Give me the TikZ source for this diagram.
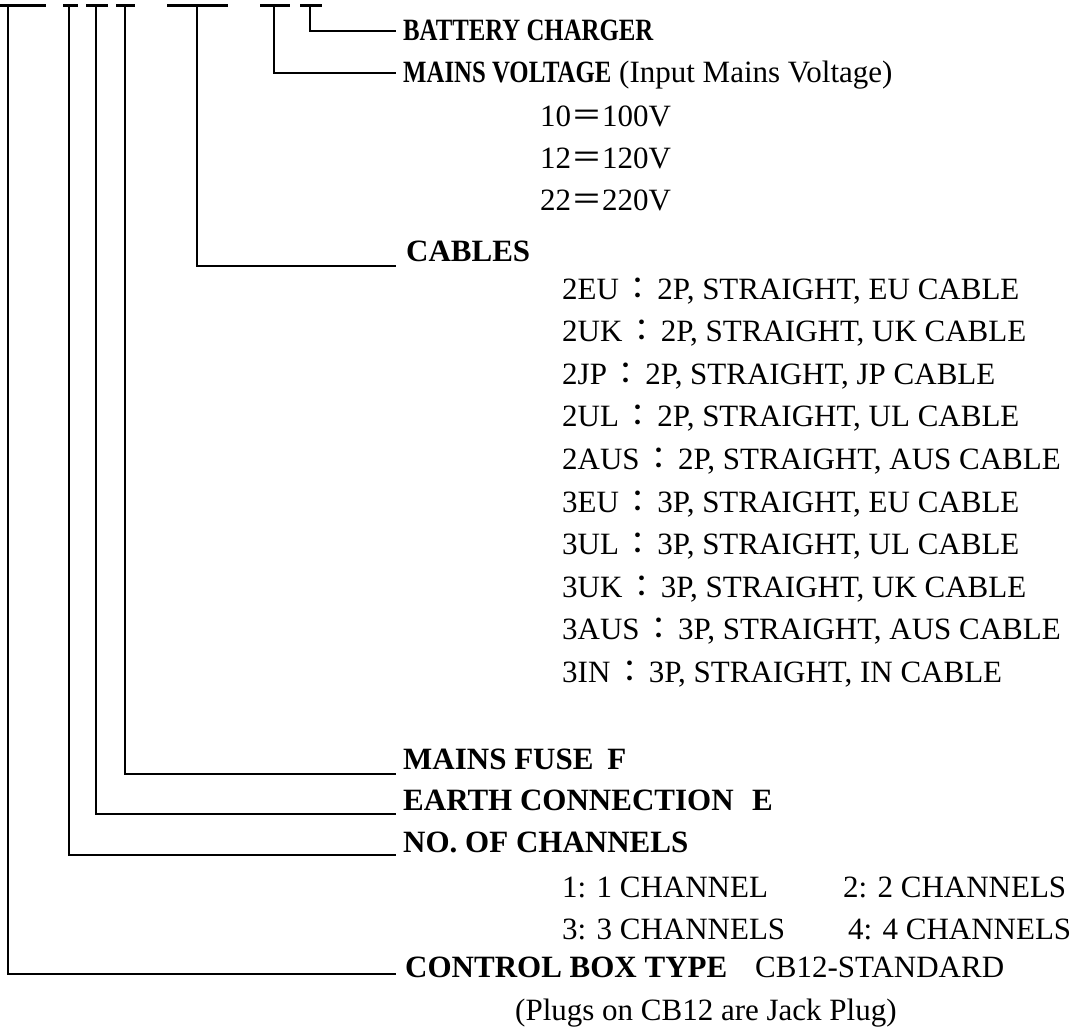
\documentclass[tikz,border=0pt]{standalone}
\usepackage{graphicx}
\usepackage{fontspec}
\setmainfont{Liberation Serif}
\newfontfamily\cjk{Noto Sans CJK TC}
\newcommand{\fwc}{\hspace{0.12em}{\cjk ：}\hspace{0.12em}}
\newcommand{\fwe}{{\cjk ＝}}
\newcommand{\cond}[1]{\scalebox{0.8}[1]{#1}}
\begin{document}
\begin{tikzpicture}[x=1pt,y=-1pt,
  lbl/.style={anchor=base west, inner sep=0pt, font=\fontsize{31}{36}\selectfont\bfseries},
  opt/.style={anchor=base west, inner sep=0pt, font=\fontsize{31}{36}\selectfont},
  conn/.style={line width=1.6pt},
  bar/.style={line width=3pt}]
\useasboundingbox (0,0) rectangle (1074,1029);
% top bars (underscores of the code)
\draw[bar] (0,5) -- (46,5);
\draw[bar] (63,5) -- (78,5);
\draw[bar] (86,5) -- (108,5);
\draw[bar] (116,5) -- (135,5);
\draw[bar] (167,5) -- (228,5);
\draw[bar] (260,5) -- (290,5);
\draw[bar] (300,5) -- (322,5);
% start points
\coordinate (t1) at (8,6.5);
\coordinate (t2) at (69,6.5);
\coordinate (t3) at (96,6.5);
\coordinate (t4) at (125,6.5);
\coordinate (t5) at (197,6.5);
\coordinate (t6) at (274,6.5);
\coordinate (t7) at (310,6.5);
% end points
\coordinate (e7) at (396,31);
\coordinate (e6) at (396,73);
\coordinate (e5) at (396,266);
\coordinate (e4) at (396,774);
\coordinate (e3) at (396,814);
\coordinate (e2) at (396,855);
\coordinate (e1) at (396,974);
\draw[conn] (t7) |- (e7);
\draw[conn] (t6) |- (e6);
\draw[conn] (t5) |- (e5);
\draw[conn] (t4) |- (e4);
\draw[conn] (t3) |- (e3);
\draw[conn] (t2) |- (e2);
\draw[conn] (t1) |- (e1);
% labels
\node[lbl] (bc) at (403,40) {\cond{BATTERY CHARGER}};
\node[lbl] (mv) at (403,82) {\cond{MAINS VOLTAGE} \mdseries(Input Mains Voltage)};
\node[opt] (v10) at (540,126) {10\fwe100V};
\node[opt] (v12) at (540,168) {12\fwe120V};
\node[opt] (v22) at (540,210) {22\fwe220V};
\node[lbl] (cab) at (406,261) {CABLES};
\node[opt] (k1) at (562,299) {2EU\fwc2P, STRAIGHT, EU CABLE};
\node[opt] (k2) at (562,341.6) {2UK\fwc2P, STRAIGHT, UK CABLE};
\node[opt] (k3) at (562,384.2) {2JP\fwc2P, STRAIGHT, JP CABLE};
\node[opt] (k4) at (562,426.8) {2UL\fwc2P, STRAIGHT, UL CABLE};
\node[opt] (k5) at (562,469.4) {2AUS\fwc2P, STRAIGHT, AUS CABLE};
\node[opt] (k6) at (562,512) {3EU\fwc3P, STRAIGHT, EU CABLE};
\node[opt] (k7) at (562,554.6) {3UL\fwc3P, STRAIGHT, UL CABLE};
\node[opt] (k8) at (562,597.2) {3UK\fwc3P, STRAIGHT, UK CABLE};
\node[opt] (k9) at (562,639.8) {3AUS\fwc3P, STRAIGHT, AUS CABLE};
\node[opt] (k10) at (562,682.4) {3IN\fwc3P, STRAIGHT, IN CABLE};
\node[lbl] (mf) at (403,769) {MAINS FUSE\hspace{0.45em}F};
\node[lbl] (ec) at (403,810) {EARTH CONNECTION\hspace{0.6em}E};
\node[lbl] (nc) at (403,852) {NO. OF CHANNELS};
\node[opt] (c1) at (562,897) {1: 1 CHANNEL};
\node[opt] (c2) at (843,897) {2: 2 CHANNELS};
\node[opt] (c3) at (562,939) {3: 3 CHANNELS};
\node[opt] (c4) at (848,939) {4: 4 CHANNELS};
\node[lbl] (cb) at (405,977) {CONTROL BOX TYPE\hspace{0.9em}\mdseries CB12-STANDARD};
\node[opt] (pl) at (515,1020) {(Plugs on CB12 are Jack Plug)};
\end{tikzpicture}
\end{document}
